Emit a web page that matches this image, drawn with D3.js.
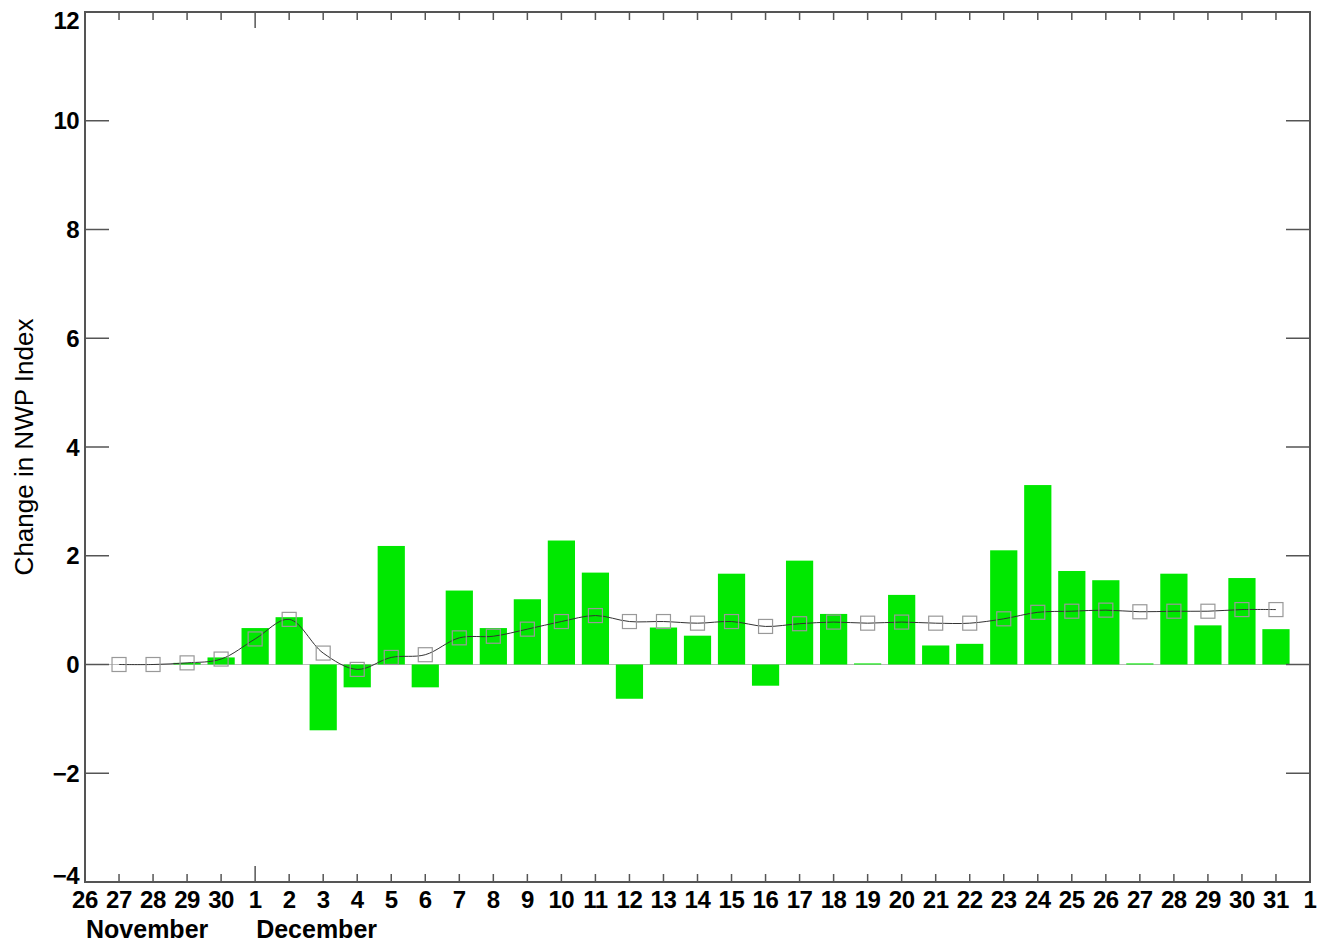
<!DOCTYPE html>
<html>
<head>
<meta charset="utf-8">
<script src="https://cdn.jsdelivr.net/npm/d3@7"></script>
<style>
  body { margin: 0; background: #fff; }
  text { font-family: "Liberation Sans", Arial, sans-serif; }
</style>
</head>
<body>
<div class="container"></div>
<script>
// days shown on the x axis (Nov 26 .. Jan 1)
var tickLabels = ["26","27","28","29","30","1","2","3","4","5","6","7","8","9","10","11","12","13","14","15","16","17","18","19","20","21","22","23","24","25","26","27","28","29","30","31","1"];
var monthLabels = [{name: "November", day: 0}, {name: "December", day: 5}];
// daily change, Nov 27 .. Dec 31 (day index 1..35)
var barValues = [0, 0, 0.03, 0.13, 0.67, 0.87, -1.21, -0.42, 2.18, -0.42, 1.36, 0.67, 1.2, 2.28, 1.69, -0.63, 0.68, 0.53, 1.67, -0.39, 1.91, 0.93, 0.02, 1.28, 0.35, 0.38, 2.1, 3.3, 1.72, 1.55, 0.02, 1.67, 0.72, 1.59, 0.65];
// running mean line
var lineValues = [0, 0, 0.03, 0.1, 0.47, 0.83, 0.21, -0.09, 0.13, 0.18, 0.49, 0.52, 0.65, 0.79, 0.9, 0.79, 0.79, 0.76, 0.79, 0.7, 0.75, 0.78, 0.76, 0.78, 0.76, 0.76, 0.84, 0.96, 0.98, 1.0, 0.97, 0.98, 0.98, 1.01, 1.01];
var yTicks = [-4, -2, 0, 2, 4, 6, 8, 10, 12];

var w = 1317, h = 942;
var pad = {left: 85, right: 1310, top: 12, bottom: 882};

var svg = d3.select(".container").append("svg")
  .attr("width", w).attr("height", h);

var x = d3.scaleLinear().domain([0, tickLabels.length - 1]).range([pad.left, pad.right]);
var y = d3.scaleLinear().domain([-4, 12]).range([pad.bottom, pad.top]);
var step = x(1) - x(0);

// zero line
svg.append("line")
  .attr("x1", pad.left).attr("x2", pad.right)
  .attr("y1", y(0)).attr("y2", y(0))
  .attr("stroke", "#bbb").attr("stroke-width", 1);

// bars
svg.selectAll(".bar").data(barValues).enter().append("rect")
  .attr("class", "bar")
  .attr("x", function(d, i) { return x(i + 1) - step * 0.4; })
  .attr("width", step * 0.8)
  .attr("y", function(d) { return y(Math.max(0, d)); })
  .attr("height", function(d) { return Math.abs(y(d) - y(0)); })
  .attr("fill", "#00e800");

// smooth line
var line = d3.line()
  .x(function(d, i) { return x(i + 1); })
  .y(function(d) { return y(d); })
  .curve(d3.curveCatmullRom);
svg.append("path").datum(lineValues)
  .attr("d", line)
  .attr("fill", "none")
  .attr("stroke", "#333")
  .attr("stroke-width", 1);

// square markers
svg.selectAll(".pt").data(lineValues).enter().append("rect")
  .attr("class", "pt")
  .attr("x", function(d, i) { return x(i + 1) - 7; })
  .attr("y", function(d) { return y(d) - 7; })
  .attr("width", 14).attr("height", 14)
  .attr("fill", "none")
  .attr("stroke", "#999")
  .attr("stroke-width", 1.2);

// frame
var axisColor = "#555";
svg.append("rect")
  .attr("x", pad.left).attr("y", pad.top)
  .attr("width", pad.right - pad.left).attr("height", pad.bottom - pad.top)
  .attr("fill", "none").attr("stroke", axisColor).attr("stroke-width", 2);

// y ticks, inward on both sides
yTicks.forEach(function(v) {
  svg.append("line").attr("x1", pad.left).attr("x2", pad.left + 24)
    .attr("y1", y(v)).attr("y2", y(v))
    .attr("stroke", axisColor).attr("stroke-width", 1.5);
  svg.append("line").attr("x1", pad.right).attr("x2", pad.right - 24)
    .attr("y1", y(v)).attr("y2", y(v))
    .attr("stroke", axisColor).attr("stroke-width", 1.5);
  // end labels pulled inside the frame like the original
  var shift = v === 12 ? 8 : (v === -4 ? -7 : 0);
  svg.append("text")
    .attr("x", pad.left - 6).attr("y", y(v) + shift)
    .attr("dy", "0.36em")
    .attr("text-anchor", "end")
    .attr("font-size", 24).attr("font-weight", "bold")
    .attr("letter-spacing", -0.6)
    .text(v < 0 ? "\u2212" + Math.abs(v) : v);
});

// x ticks
tickLabels.forEach(function(lab, i) {
  var len = (i === 5) ? 16 : 8;
  svg.append("line").attr("x1", x(i)).attr("x2", x(i))
    .attr("y1", pad.bottom).attr("y2", pad.bottom - len)
    .attr("stroke", axisColor).attr("stroke-width", 1.5);
  svg.append("line").attr("x1", x(i)).attr("x2", x(i))
    .attr("y1", pad.top).attr("y2", pad.top + len)
    .attr("stroke", axisColor).attr("stroke-width", 1.5);
  svg.append("text")
    .attr("x", x(i)).attr("y", 908)
    .attr("text-anchor", "middle")
    .attr("font-size", 24).attr("font-weight", "bold")
    .attr("letter-spacing", -0.4)
    .text(lab);
});

// month names
svg.selectAll(".month").data(monthLabels).enter().append("text")
  .attr("class", "month")
  .attr("x", function(d) { return x(d.day) + 1; })
  .attr("y", 938)
  .attr("font-size", 25).attr("font-weight", "bold")
  .text(function(d) { return d.name; });

// y title
svg.append("text")
  .attr("transform", "translate(33,447) rotate(-90)")
  .attr("text-anchor", "middle")
  .attr("font-size", 26)
  .text("Change in NWP Index");
</script>
</body>
</html>
